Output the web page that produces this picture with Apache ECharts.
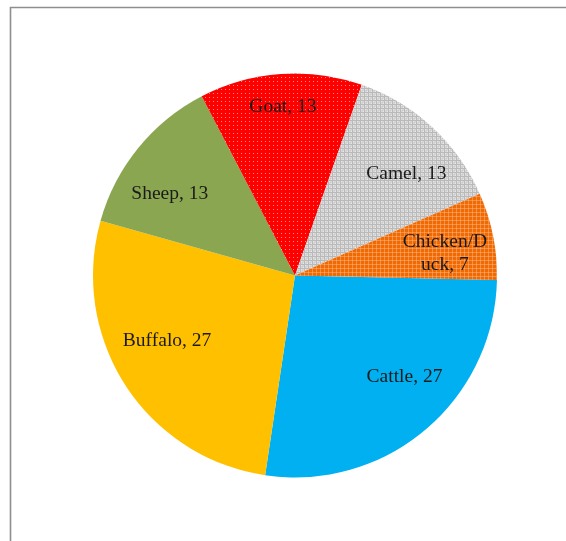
<!DOCTYPE html>
<html>
<head>
<meta charset="utf-8">
<script src="https://cdn.jsdelivr.net/npm/echarts@6/dist/echarts.min.js"></script>
<style>
  html, body { margin: 0; padding: 0; background: #ffffff; }
  #chart { width: 566px; height: 541px; }
</style>
</head>
<body>
<div id="chart"></div>
<script>
// Livestock share (percent)
const categories = ['Cattle', 'Buffalo', 'Sheep', 'Goat', 'Camel', 'Chicken/Duck'];
const values = [27, 27, 13, 13, 13, 7];

// Pie geometry
const CX = 295, CY = 275.5, R = 202;
const START = 1.3; // degrees clockwise from 3 o'clock

// Label placement: radius fraction and angular nudge (degrees) per slice
const labelRadius = [0.74, 0.71, 0.74, 0.835, 0.745, 0.75];
const labelTurn = [-7, 6, -6, 0, 5, 3];

// Small repeating fill tiles
function tile(draw) {
  const c = document.createElement('canvas');
  c.width = 4; c.height = 4;
  const g = c.getContext('2d');
  draw(g);
  return c;
}
function px(g, x, y, col) { g.fillStyle = col; g.fillRect(x, y, 1, 1); }

const goatTile = tile(g => {
  g.fillStyle = '#ff0000'; g.fillRect(0, 0, 4, 4);
  px(g, 1, 1, '#ff8c8c');
});
const camelTile = tile(g => {
  g.fillStyle = '#d6d6d6'; g.fillRect(0, 0, 4, 4);
  for (let i = 0; i < 4; i++) { px(g, i, 0, '#b9b9b9'); px(g, 0, i, '#b9b9b9'); }
  px(g, 1, 1, '#e8e8e8'); px(g, 3, 3, '#e8e8e8'); px(g, 2, 2, '#cbcbcb');
});
const chickenTile = tile(g => {
  g.fillStyle = '#ef6a00'; g.fillRect(0, 0, 4, 4);
  for (let i = 0; i < 4; i++) { px(g, i, 0, '#f68f45'); px(g, 0, i, '#f68f45'); }
  px(g, 0, 0, '#f9a868');
});

const fills = [
  '#00b0f0',
  '#ffc000',
  '#8aa650',
  { image: goatTile, repeat: 'repeat' },
  { image: camelTile, repeat: 'repeat' },
  { image: chickenTile, repeat: 'repeat' }
];

const total = values.reduce((a, b) => a + b, 0);
const midAngles = [];
let acc = 0;
values.forEach(v => {
  midAngles.push(START + (acc + v / 2) / total * 360);
  acc += v;
});

const data = categories.map((name, i) => {
  const item = { name: name, value: values[i], itemStyle: { color: fills[i] } };
  if (name === 'Chicken/Duck') {
    item.label = { width: 88, overflow: 'breakAll', lineHeight: 23 };
  }
  return item;
});

const chart = echarts.init(document.getElementById('chart'), null, { renderer: 'canvas' });
chart.setOption({
  animation: false,
  backgroundColor: '#ffffff',
  graphic: [{
    type: 'polyline',
    silent: true,
    shape: { points: [[10.5, 541], [10.5, 7.5], [566, 7.5]] },
    style: { stroke: '#8e8e8e', lineWidth: 1.6, fill: null }
  }],
  series: [{
    type: 'pie',
    center: [CX, CY],
    radius: [0, R],
    startAngle: -START,
    clockwise: true,
    avoidLabelOverlap: false,
    silent: true,
    emphasis: { disabled: true },
    itemStyle: { borderWidth: 0 },
    label: {
      show: true,
      position: 'inside',
      formatter: '{b}, {c}',
      fontFamily: '"Liberation Serif", "DejaVu Serif", serif',
      fontSize: 19.5,
      color: '#1a1a1a',
      align: 'center'
    },
    labelLine: { show: false },
    labelLayout: function (params) {
      const i = params.dataIndex;
      const a = (midAngles[i] + labelTurn[i]) * Math.PI / 180;
      const r = labelRadius[i] * R;
      return {
        x: CX + r * Math.cos(a),
        y: CY + r * Math.sin(a),
        align: 'center',
        verticalAlign: 'middle'
      };
    },
    data: data
  }]
});
</script>
</body>
</html>
